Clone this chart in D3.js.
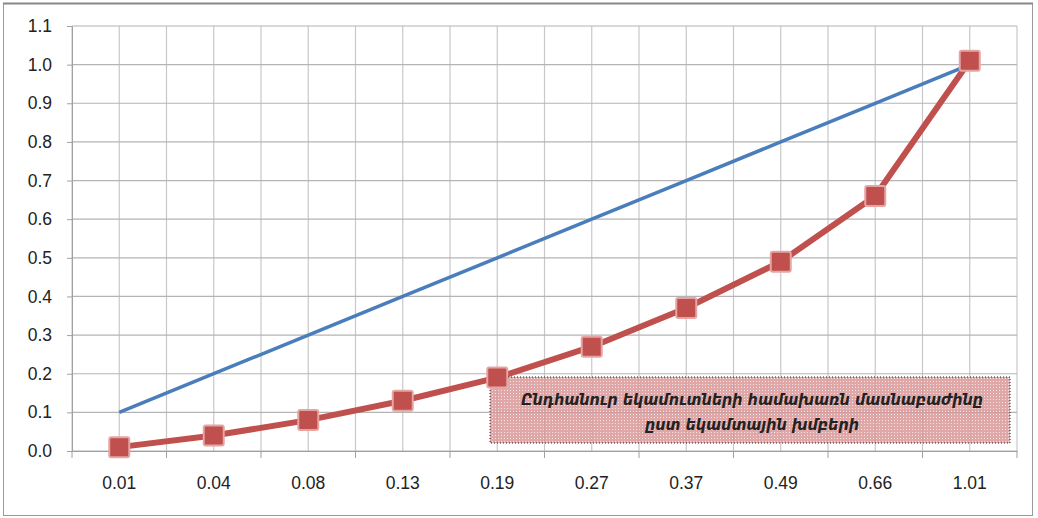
<!DOCTYPE html>
<html><head><meta charset="utf-8">
<script src="https://cdn.jsdelivr.net/npm/d3@7"></script>
<style>body{margin:0;background:#fff;}svg{display:block;}</style>
</head><body>
<svg id="c" width="1038" height="518"></svg>
<script>
const categories = ["0.01","0.04","0.08","0.13","0.19","0.27","0.37","0.49","0.66","1.01"];
const equalityValues = [0.1,0.2,0.3,0.4,0.5,0.6,0.7,0.8,0.9,1.0];
const lorenzValues = [0.01,0.04,0.08,0.13,0.19,0.27,0.37,0.49,0.66,1.01];
const yTicks = [0,0.1,0.2,0.3,0.4,0.5,0.6,0.7,0.8,0.9,1.0,1.1];
const noteLines = ["Ընդհանուր եկամուտների համախառն մասնաբաժինը","ըստ եկամտային խմբերի"];

const svg = d3.select("#c");
const L=72, R=1017, T=26, B=451;

// outer frame
svg.append("rect").attr("x",3.5).attr("y",3.5).attr("width",1029).attr("height",512)
  .attr("fill","#fff").attr("stroke","#9a9a9a").attr("stroke-width",1);
svg.append("line").attr("x1",3).attr("x2",1033).attr("y1",3.5).attr("y2",3.5).attr("stroke","#888").attr("stroke-width",2);

const x = d3.scaleBand().domain(categories).range([L,R]);
const y = d3.scaleLinear().domain([0,1.1]).range([B,T]);

const defs = svg.append("defs");
const pat = defs.append("pattern").attr("id","dots").attr("width",3).attr("height",3).attr("patternUnits","userSpaceOnUse");
pat.append("rect").attr("width",3).attr("height",3).attr("fill","#d99898");
pat.append("rect").attr("width",1).attr("height",1).attr("fill","#f4e0e0");

// grid
const g = svg.append("g");
const halfPos = [];
categories.forEach(c=>{ halfPos.push(x(c)); halfPos.push(x(c)+x.bandwidth()/2); });
halfPos.push(R);
g.selectAll("line.v").data(halfPos).join("line")
  .attr("x1",d=>d).attr("x2",d=>d).attr("y1",T).attr("y2",B)
  .attr("stroke","#c8c8c8").attr("stroke-width",1.2);
g.selectAll("line.h").data(yTicks).join("line")
  .attr("x1",L).attr("x2",R).attr("y1",d=>y(d)).attr("y2",d=>y(d))
  .attr("stroke","#b4b4b4").attr("stroke-width",1.2);

const tickFont = "'Liberation Sans', Arial, sans-serif";
// y axis
const ya = svg.append("g").attr("transform",`translate(${L},0)`)
  .call(d3.axisLeft(y).tickValues(yTicks).tickFormat(d3.format(".1f")).tickSize(5).tickPadding(15));
ya.select(".domain").attr("stroke","#a0a0a0");
ya.selectAll(".tick line").attr("stroke","#a0a0a0");
ya.selectAll("text").attr("font-family",tickFont).attr("font-size",17.5).attr("fill","#222");

// x axis
const xa = svg.append("g").attr("transform",`translate(0,${B})`)
  .call(d3.axisBottom(x).tickSize(0).tickPadding(26));
xa.select(".domain").attr("stroke","#a0a0a0");
xa.selectAll("text").attr("font-family",tickFont).attr("font-size",17.5).attr("fill","#222");
const bounds = categories.map(c=>x(c)).concat([R]);
svg.append("g").selectAll("line").data(bounds).join("line")
  .attr("x1",d=>d).attr("x2",d=>d).attr("y1",B).attr("y2",B+7).attr("stroke","#a0a0a0");

const cx = c=>x(c)+x.bandwidth()/2;

// blue line
svg.append("path").datum(equalityValues)
  .attr("d",d3.line().x((d,i)=>cx(categories[i])).y(d=>y(d)))
  .attr("fill","none").attr("stroke","#4a7ebb").attr("stroke-width",3.5);

// red line
svg.append("path").datum(lorenzValues)
  .attr("d",d3.line().x((d,i)=>cx(categories[i])).y(d=>y(d)))
  .attr("fill","none").attr("stroke","#c0504d").attr("stroke-width",6).attr("stroke-linejoin","round");

// text box
const bx=490, by=377, bw=520, bh=66;
svg.append("rect").attr("x",bx).attr("y",by).attr("width",bw).attr("height",bh)
  .attr("fill","url(#dots)").attr("fill-opacity",0.85)
  .attr("stroke","#222").attr("stroke-width",1).attr("stroke-dasharray","1,2");
svg.append("g").selectAll("text").data(noteLines).join("text")
  .attr("x",bx+bw/2+2).attr("y",(d,i)=>by+28+i*25)
  .attr("text-anchor","middle")
  .attr("font-family","'DejaVu Sans Condensed', 'DejaVu Sans', sans-serif").attr("font-stretch","condensed")
  .attr("font-style","italic").attr("font-weight","bold")
  .attr("font-size",16).attr("fill","#222").text(d=>d);

// markers
svg.append("g").selectAll("rect").data(lorenzValues).join("rect")
  .attr("x",(d,i)=>cx(categories[i])-10).attr("y",d=>y(d)-10)
  .attr("width",20).attr("height",20).attr("rx",2)
  .attr("fill","#c0504d").attr("stroke","#e4a5a3").attr("stroke-width",2);
</script>
</body></html>
